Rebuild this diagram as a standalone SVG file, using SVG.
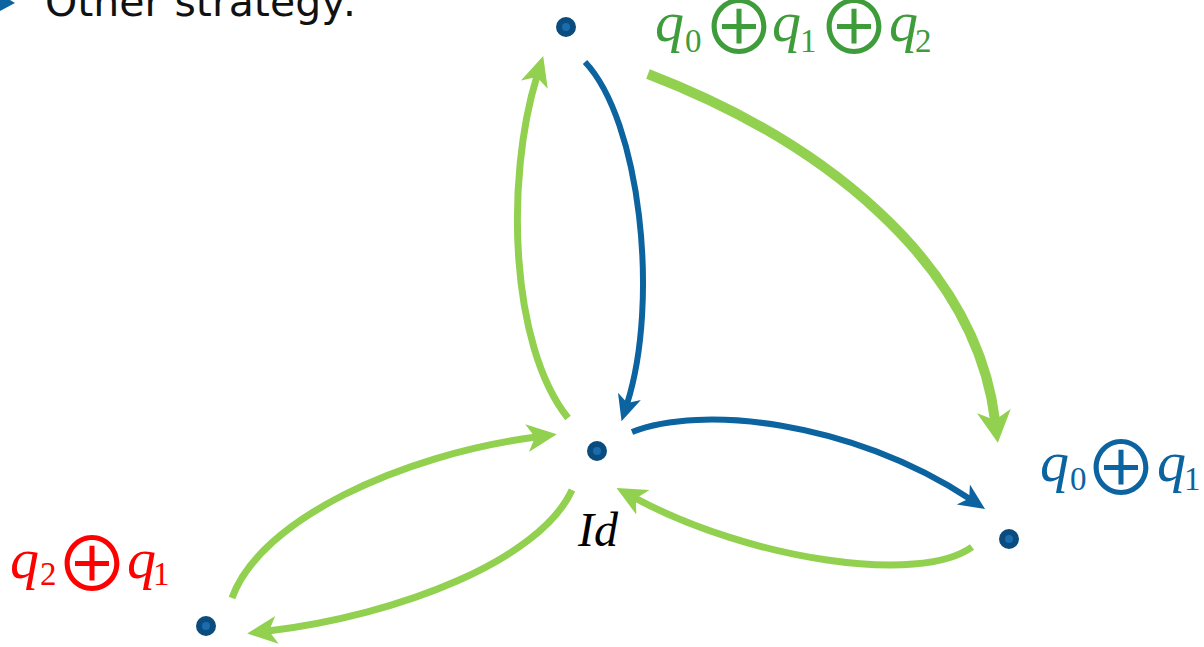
<svg xmlns="http://www.w3.org/2000/svg" width="1204" height="647" viewBox="0 0 1204 647">
<style>
.g{fill:none;stroke:#92d050;stroke-width:7}
.gt{fill:none;stroke:#92d050;stroke-width:10}
.b{fill:none;stroke:#0b63a0;stroke-width:6}
.dot{fill:#1a6cac;stroke:#0b4c7e;stroke-width:6}
.m{font-family:"Liberation Serif",serif}
.q{font-style:italic;font-size:58px}
.s{font-size:33px}
.op{font-family:"Noto Sans CJK JP","Noto Sans CJK SC",sans-serif;font-size:74px}
</style>
<defs>
<marker id="ag" viewBox="0 0 30 30" refX="9" refY="15" markerWidth="30" markerHeight="30" markerUnits="userSpaceOnUse" orient="auto">
<path d="M0,1 L30,15 L0,29 L8,15 Z" fill="#92d050"/>
</marker>
<marker id="agt" viewBox="0 0 32 34" refX="9" refY="17" markerWidth="32" markerHeight="34" markerUnits="userSpaceOnUse" orient="auto">
<path d="M0,0 L32,17 L0,34 L9,17 Z" fill="#92d050"/>
</marker>
<marker id="ab" viewBox="0 0 26 26" refX="8" refY="13" markerWidth="26" markerHeight="26" markerUnits="userSpaceOnUse" orient="auto">
<path d="M0,1 L26,13 L0,25 L7,13 Z" fill="#0b63a0"/>
</marker>
</defs>
<g id="title">
<polygon points="0,-6 15,3 0,11" fill="#0b63a0"/>
<text x="45" y="16" font-family="DejaVu Sans, sans-serif" font-size="41" fill="#111">Other strategy:</text>
</g>
<g id="connectors">
<path class="g" d="M568,418 C510,345 505,180 537,76" marker-end="url(#ag)"/>
<path class="b" d="M585,62 C640,120 660,300 627,404" marker-end="url(#ab)"/>
<path class="gt" d="M648,74 C820,140 975,260 995,420" marker-end="url(#agt)"/>
<path class="b" d="M632,432 C700,405 850,420 970,499" marker-end="url(#ab)"/>
<path class="g" d="M972,547 C920,585 750,560 635,498" marker-end="url(#ag)"/>
<path class="g" d="M232,598 C260,520 400,455 536,437" marker-end="url(#ag)"/>
<path class="g" d="M572,490 C540,560 400,615 268,631" marker-end="url(#ag)"/>
</g>
<g id="node-top">
<circle class="dot" cx="566" cy="27" r="7"/>
<text class="m" fill="#3e9c3a"><tspan class="q" x="655" y="41">q</tspan><tspan class="s" x="685" y="52">0</tspan><tspan class="op" x="739" y="54" text-anchor="middle">⊕</tspan><tspan class="q" x="772" y="41">q</tspan><tspan class="s" x="800" y="52">1</tspan><tspan class="op" x="854" y="54" text-anchor="middle">⊕</tspan><tspan class="q" x="889" y="41">q</tspan><tspan class="s" x="915" y="52">2</tspan></text>
</g>
<g id="node-center">
<circle class="dot" cx="597" cy="451" r="7"/>
<text class="m" x="578" y="546" font-style="italic" font-size="48" fill="#000">Id</text>
</g>
<g id="node-right">
<circle class="dot" cx="1009" cy="539" r="7"/>
<text class="m" fill="#0b63a0"><tspan class="q" x="1040" y="481">q</tspan><tspan class="s" x="1070" y="490">0</tspan><tspan class="op" x="1121" y="495" text-anchor="middle">⊕</tspan><tspan class="q" x="1157" y="481">q</tspan><tspan class="s" x="1184" y="490">1</tspan></text>
</g>
<g id="node-left">
<circle class="dot" cx="206" cy="626" r="7"/>
<text class="m" fill="#ff0000"><tspan class="q" x="10" y="578">q</tspan><tspan class="s" x="40" y="585">2</tspan><tspan class="op" x="92" y="591" text-anchor="middle">⊕</tspan><tspan class="q" x="127" y="578">q</tspan><tspan class="s" x="153" y="585">1</tspan></text>
</g>
</svg>
